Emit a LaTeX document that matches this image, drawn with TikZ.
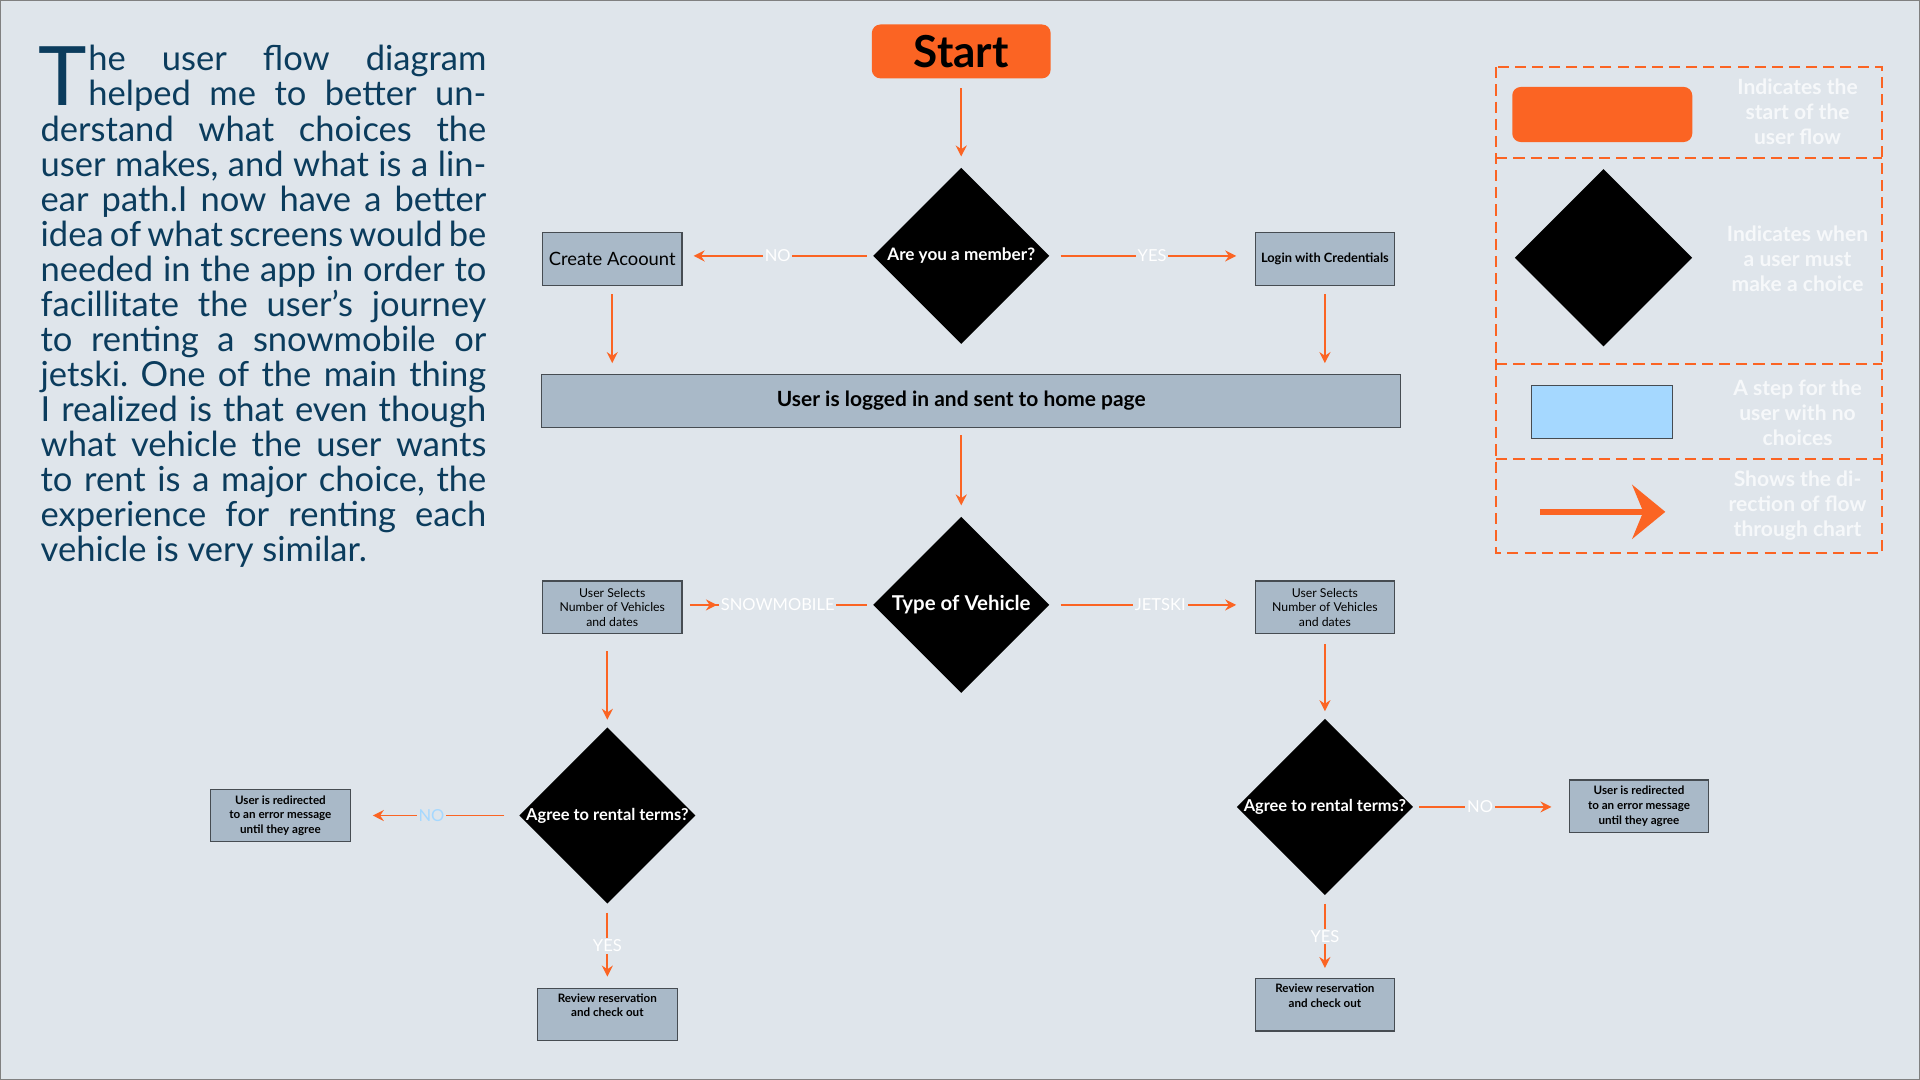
\documentclass[tikz,border=0pt]{standalone}
\usepackage{fontspec}
\setmainfont{Lato}
\usetikzlibrary{positioning, arrows.meta, shapes.geometric}
\definecolor{flowbg}{RGB}{223,229,235}
\definecolor{startorange}{RGB}{251,100,35}
\definecolor{stepgray}{RGB}{169,185,200}
\definecolor{stepedge}{RGB}{70,76,82}
\definecolor{legendblue}{RGB}{165,216,255}
\definecolor{storyblue}{RGB}{11,60,93}
\definecolor{paletext}{RGB}{246,248,250}

\begin{document}
\begin{tikzpicture}[x=1pt, y=-1pt,
    startbox/.style={fill=startorange, rounded corners=7pt, minimum width=146pt,
                     minimum height=44pt, font=\fontsize{36}{40}\selectfont\bfseries},
    stepbox/.style={draw=stepedge, line width=0.9pt, fill=stepgray, align=center,
                    minimum width=114pt, minimum height=43pt, inner sep=1pt,
                    font=\fontsize{9.5}{12}\selectfont\bfseries},
    decision/.style={diamond, aspect=1, fill=black, minimum width=144pt,
                     minimum height=144pt, inner sep=0pt},
    asks/.style={text=white, font=\fontsize{13.4}{15}\selectfont\bfseries},
    flowline/.style={draw=startorange, line width=1.4pt, shorten <=6pt, shorten >=9pt},
    flow/.style={flowline, -{Stealth[length=9pt, width=9pt, inset=3pt]}},
    answer/.style={fill=flowbg, text=white, inner sep=1.5pt,
                   font=\fontsize{13.5}{15}\selectfont},
    keytext/.style={text=paletext, align=center,
                    font=\fontsize{17.2}{20.5}\selectfont\bfseries},
    keyframe/.style={draw=startorange, line width=1.6pt, dash pattern=on 9pt off 5pt},
    story/.style={anchor=north west, inner sep=0pt, text width=364pt, align=justify,
                  text=storyblue, font=\fontsize{28.2}{28.6}\selectfont}]

  % page
  \fill[flowbg] (0,0) rectangle (1568,882);
  \draw[gray, line width=1pt] (0.5,0.5) rectangle (1567.5,881.5);

  % write-up
  \node[story] (story) at (33,37) {\frenchspacing\noindent\hangindent=39pt\hangafter=-2%
    \llap{\smash{\raisebox{-28.6pt}{\fontsize{67}{67}\selectfont T}}\hspace{1pt}}%
    he user flow diagram\linebreak
    helped me to better un-\linebreak derstand what choices the\linebreak
    user makes, and what is a lin-\linebreak ear path.I now have a better\linebreak
    idea of what screens would be\linebreak needed in the app in order to\linebreak
    facillitate the user's journey\linebreak to renting a snowmobile or\linebreak
    jetski. One of the main thing\linebreak I realized is that even though\linebreak
    what vehicle the user wants\linebreak to rent is a major choice, the\linebreak
    experience for renting each\linebreak vehicle is very similar.\par};

  % main flow
  \node[startbox] (start) at (785,42) {Start};
  \node[decision, label={[asks, font=\fontsize{14}{16}\selectfont\bfseries]center:Are you a member?}]
    (member) at (785,209) {};
  \node[stepbox, font=\fontsize{15}{18}\selectfont] (create) at (500,211.5) {Create Acoount};
  \node[stepbox, font=\fontsize{10.5}{12}\selectfont\bfseries] (login) at (1082,211.5)
    {Login with Credentials};
  \node[stepbox, minimum width=702pt, font=\fontsize{17.1}{20}\selectfont\bfseries]
    (home) at (793,327.5) {\hspace*{-16pt}User is logged in and sent to home page};
  \node[decision, label={[asks, font=\fontsize{16.7}{19}\selectfont\bfseries]center:Type of Vehicle}]
    (vehicle) at (785,494) {};
  \node[stepbox, font=\fontsize{10}{12}\selectfont] (snowsteps) at (500,496)
    {User Selects\\Number of Vehicles\\and dates};
  \node[stepbox, font=\fontsize{10}{12}\selectfont] (jetsteps) at (1082,496)
    {User Selects\\Number of Vehicles\\and dates};

  % snowmobile branch
  \node[decision, label={[asks]center:Agree to rental terms?}] (snowterms) at (496,666) {};
  \node[stepbox] (snowerror) at (229,666) {User is redirected\\to an error message\\until they agree};
  \node[stepbox] (snowreview) at (496,828.5) {Review reservation\\and check out\\[3pt]};

  % jetski branch
  \node[decision, label={[asks]center:Agree to rental terms?}] (jetterms) at (1082,659) {};
  \node[stepbox] (jeterror) at (1338.5,658.5) {User is redirected\\to an error message\\until they agree};
  \node[stepbox] (jetreview) at (1082,820.5) {Review reservation\\and check out\\[3pt]};

  \draw[flow, shorten <=8pt] (start) -- (member);
  \draw[flow, shorten <=5pt] (member.west) -- node[answer]{NO} (create.east |- member.west);
  \draw[flow, shorten <=9pt, shorten >=15pt] (member.east) -- node[answer]{YES} (login.west |- member.east);
  \draw[flow, shorten <=7pt] (create) -- (create |- home.north);
  \draw[flow, shorten <=7pt] (login) -- (login |- home.north);
  \draw[flow] (home.south -| vehicle.north) -- (vehicle);
  \draw[flowline, shorten <=5pt] (vehicle.west) -- node[answer] (snowtag) {SNOWMOBILE} (snowsteps.east |- vehicle.west);
  \draw[flow, shorten >=1pt] (snowsteps.east |- vehicle.west) -- (snowtag.west);
  \draw[flow, shorten <=9pt, shorten >=15pt] (vehicle.east) -- node[answer, pos=0.54]{JETSKI} (jetsteps.west |- vehicle.east);
  \draw[flow, shorten <=14pt, shorten >=6pt] (snowterms.north |- snowsteps.south) -- (snowterms);
  \draw[flow, shorten <=8pt, shorten >=6pt] (jetsteps) -- (jetterms);
  \draw[flow, shorten <=12pt, shorten >=18pt] (snowterms.west) -- node[answer, text=legendblue, pos=0.52]{NO} (snowerror.east |- snowterms.west);
  \draw[flow, shorten <=7pt] (snowterms) -- node[answer]{YES} (snowreview);
  \draw[flow, shorten <=5pt, shorten >=14pt] (jetterms.east) -- node[answer, pos=0.43]{NO} (jeterror.west |- jetterms.east);
  \draw[flow, shorten <=7pt, shorten >=8pt] (jetterms) -- node[answer]{YES} (jetreview);

  % legend
  \draw[keyframe] (1222,55) rectangle (1537,452);
  \foreach \y in {129, 297.5, 375}
    \draw[keyframe] (1222,\y) -- (1537,\y);
  \node[startbox, minimum width=147pt, minimum height=45pt] (keystart) at (1308.5,93.5) {};
  \node[decision, minimum width=145pt, minimum height=145pt] (keychoice) at (1309.5,210.5) {};
  \node[stepbox, fill=legendblue, minimum width=115pt] (keystep) at (1308.5,336.5) {};
  \coordinate (keytail) at (1258,418);
  \coordinate (keyhead) at (1360,418);
  \draw[startorange, line width=5pt, -{Stealth[length=27pt, width=44pt, inset=9pt]}]
    (keytail) -- (keyhead);
  \node[keytext] (keystarttxt) at (1468,91) {Indicates the\\start of the\\user flow};
  \node[keytext] (keychoicetxt) at (1468,211) {Indicates when\\a user must\\make a choice};
  \node[keytext] (keysteptxt) at (1468,337) {A step for the\\user with no\\choices};
  \node[keytext] (keyflowtxt) at (1468,413) {Shows the di-\\rection of flow\\through chart};
\end{tikzpicture}
\end{document}
